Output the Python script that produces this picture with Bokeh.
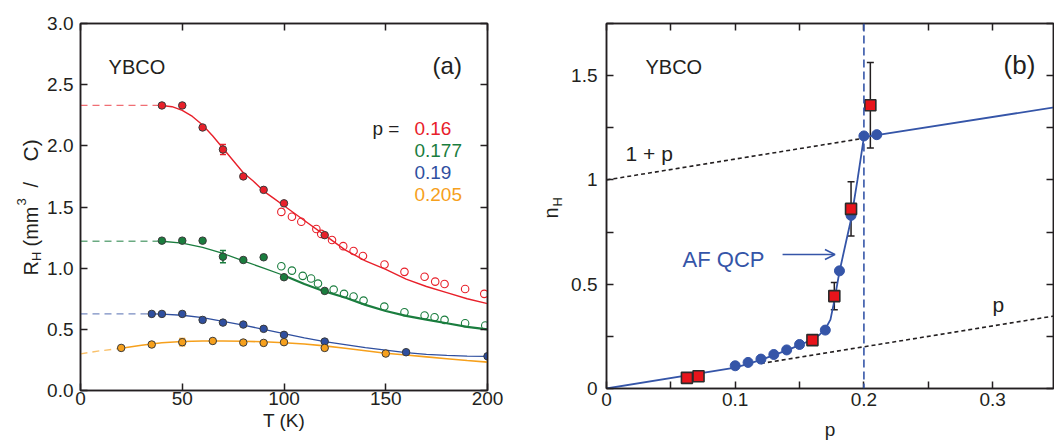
import math
from bokeh.plotting import figure
from bokeh.layouts import row
from bokeh.models import (FixedTicker, LinearAxis, CustomJSTickFormatter, Label, Span,
                          Whisker, TeeHead, Arrow, OpenHead, ColumnDataSource, Range1d)
from bokeh.embed import file_html
from bokeh.resources import INLINE

FONT = "Liberation Sans"
INK = "#231f20"
RED = "#e8202a"
GREEN = "#1a7d3e"
BLUE = "#2f4f9f"
ORANGE = "#f6a01c"
BLUE_B = "#3555a8"
SQ_RED = "#e8141b"
H = 448

# ---------------- Panel (a) data ----------------
T_red_fill = [40, 50, 60, 70, 80, 90, 100, 120]
R_red_fill = [2.33, 2.33, 2.15, 1.97, 1.75, 1.64, 1.53, 1.27]
T_red_open = [98.7, 103.9, 108.5, 115.9, 118.3, 123.6, 129.1, 134.2, 138.8, 149.4, 159.2, 169.1, 174.3, 178.9, 189.0, 198.4]
R_red_open = [1.46, 1.42, 1.38, 1.32, 1.28, 1.23, 1.18, 1.14, 1.10, 1.03, 0.97, 0.93, 0.89, 0.87, 0.83, 0.79]
T_red_fit = [40, 45, 50, 55, 60, 65, 70, 75, 80, 85, 90, 95, 100, 110, 120, 130, 140, 150, 160, 170, 180, 190, 200]
R_red_fit = [2.33, 2.32, 2.29, 2.24, 2.17, 2.08, 1.98, 1.88, 1.78, 1.71, 1.63, 1.57, 1.51, 1.39, 1.27, 1.15, 1.06, 0.99, 0.91, 0.85, 0.80, 0.75, 0.71]
T_red_ext = [0, 40]
R_red_ext = [2.33, 2.33]

T_grn_fill = [40, 50, 60, 70, 80, 90, 100, 120]
R_grn_fill = [1.225, 1.225, 1.225, 1.094, 1.067, 1.089, 0.926, 0.814]
T_grn_open = [98.7, 103.9, 109.2, 113.3, 116.7, 124.4, 129.5, 134.2, 139.1, 149.3, 159.2, 169.1, 174.0, 178.9, 189.0, 198.9]
R_grn_open = [1.016, 0.98, 0.937, 0.915, 0.874, 0.825, 0.79, 0.768, 0.735, 0.686, 0.64, 0.613, 0.599, 0.577, 0.55, 0.531]
T_grn_fit1 = [40, 50, 60, 70, 80, 90, 100]
R_grn_fit1 = [1.22, 1.205, 1.17, 1.12, 1.06, 1.00, 0.94]
T_grn_fit2 = [100, 110, 120, 130, 140, 150, 160, 170, 180, 190, 200]
R_grn_fit2 = [0.94, 0.87, 0.81, 0.76, 0.70, 0.65, 0.61, 0.58, 0.55, 0.52, 0.50]
T_grn_ext = [0, 40]
R_grn_ext = [1.22, 1.22]

T_blu_fill = [35, 40, 50, 60, 70, 80, 90, 100, 120, 160, 200]
R_blu_fill = [0.626, 0.626, 0.626, 0.577, 0.555, 0.539, 0.504, 0.455, 0.40, 0.313, 0.28]
T_blu_fit = [35, 40, 50, 60, 70, 80, 90, 100, 110, 120, 130, 140, 150, 160, 170, 180, 190, 200]
R_blu_fit = [0.626, 0.625, 0.615, 0.595, 0.565, 0.535, 0.50, 0.465, 0.43, 0.40, 0.375, 0.35, 0.33, 0.31, 0.295, 0.287, 0.281, 0.279]
T_blu_ext = [0, 35]
R_blu_ext = [0.626, 0.626]

T_org_fill = [20, 35, 50, 65, 80, 90, 100, 120, 150]
R_org_fill = [0.348, 0.376, 0.395, 0.405, 0.392, 0.389, 0.395, 0.348, 0.302]
T_org_fit = [20, 30, 40, 50, 60, 70, 80, 90, 100, 110, 120, 130, 140, 150, 160, 170, 180, 190, 200]
R_org_fit = [0.345, 0.37, 0.39, 0.40, 0.405, 0.405, 0.403, 0.398, 0.39, 0.38, 0.365, 0.345, 0.325, 0.305, 0.29, 0.275, 0.26, 0.245, 0.232]
T_org_ext = [0, 10, 20]
R_org_ext = [0.30, 0.325, 0.345]

# error bars in (a)
err_a_T = [70, 70, 60, 50]
err_a_R = [1.97, 1.094, 0.577, 0.395]
err_a_e = [0.04, 0.05, 0.02, 0.03]
err_a_c = [RED, GREEN, BLUE, ORANGE]

legend_p = ["0.16", "0.177", "0.19", "0.205"]
legend_c = [RED, GREEN, BLUE, ORANGE]

a_xticks = [0, 50, 100, 150, 200]
a_yticks = [0.0, 0.5, 1.0, 1.5, 2.0, 2.5, 3.0]

# ---------------- Panel (b) data ----------------
p_circ = [0.10, 0.11, 0.12, 0.13, 0.14, 0.15, 0.16, 0.17, 0.181, 0.19, 0.20, 0.21]
n_circ = [0.109, 0.125, 0.141, 0.163, 0.185, 0.211, 0.235, 0.28, 0.564, 0.83, 1.211, 1.217]
p_sq = [0.0625, 0.0715, 0.16, 0.177, 0.19, 0.205]
n_sq = [0.051, 0.059, 0.232, 0.443, 0.861, 1.358]
e_sq = [0.0, 0.0, 0.02, 0.065, 0.13, 0.205]
p_fit = [0.0, 0.10, 0.11, 0.12, 0.13, 0.14, 0.15, 0.16, 0.165, 0.17, 0.174, 0.177, 0.181, 0.186, 0.19, 0.195, 0.20, 0.35]
n_fit = [0.0, 0.10, 0.118, 0.137, 0.16, 0.183, 0.208, 0.235, 0.255, 0.285, 0.33, 0.42, 0.56, 0.70, 0.81, 1.0, 1.205, 1.35]
p_ref1 = [0.0, 0.2]
n_ref1 = [1.0, 1.2]
p_ref2 = [0.12, 0.35]
n_ref2 = [0.12, 0.35]
p_qcp = 0.2

b_xticks = [0.0, 0.1, 0.2, 0.3]
b_xminor = [0.05, 0.15, 0.25, 0.35]
b_yticks = [0.0, 0.5, 1.0, 1.5]
b_yminor = [0.25, 0.75, 1.25, 1.75]

EMPTY = CustomJSTickFormatter(code="return ''")


def style_axis(ax, ticker, formatter, standoff):
    ax.ticker = ticker
    ax.formatter = formatter
    ax.major_tick_in = 7
    ax.major_tick_out = 0
    ax.minor_tick_in = 7
    ax.minor_tick_out = 0
    ax.axis_line_color = INK
    ax.axis_line_width = 1.5
    ax.major_tick_line_color = INK
    ax.major_tick_line_width = 1.5
    ax.minor_tick_line_color = INK
    ax.minor_tick_line_width = 1.5
    ax.major_label_text_font = FONT
    ax.major_label_text_font_size = "19px"
    ax.major_label_text_color = INK
    ax.major_label_standoff = standoff
    ax.axis_label_text_font = FONT
    ax.axis_label_text_font_size = "19px"
    ax.axis_label_text_font_style = "normal"
    ax.axis_label_text_color = INK


def frame_axes(p, xt, yt):
    top = LinearAxis()
    style_axis(top, xt, EMPTY, 0)
    right = LinearAxis()
    style_axis(right, yt, EMPTY, 0)
    p.add_layout(top, "above")
    p.add_layout(right, "right")


def lab(p, x, y, text, size, color=INK, align="left", baseline="alphabetic", angle=0.0):
    p.add_layout(Label(x=x, y=y, text=text, text_font=FONT, text_font_size=f"{size}px",
                       text_color=color, text_align=align, text_baseline=baseline,
                       angle=angle, angle_units="rad"))


def label_strip(w):
    f = figure(width=w, height=H, x_range=Range1d(0, w), y_range=Range1d(H, 0),
               output_backend="svg", toolbar_location=None, x_axis_type=None,
               y_axis_type=None, min_border=0, title=None, frame_align=False)
    f.outline_line_color = None
    f.xgrid.visible = False
    f.ygrid.visible = False
    f.border_fill_color = "white"
    f.background_fill_color = "white"
    return f


ang = math.pi / 2

# ================= y title strip for (a): R_H (mm^3 / C) =================
sa = label_strip(44)
lab(sa, 30, 275, "R", 20, angle=ang)
lab(sa, 36, 260.5, "H", 13, angle=ang)
lab(sa, 30, 246, "(mm", 20, angle=ang)
lab(sa, 21, 205, "3", 13, angle=ang)
lab(sa, 30, 187, "/", 20, angle=ang)
lab(sa, 30, 161, "C)", 21, angle=ang)

# ================= Panel (a) =================
pa = figure(width=486, height=H, x_range=Range1d(0, 200), y_range=Range1d(0, 3),
            output_backend="svg", toolbar_location=None, frame_align=False,
            min_border_left=36, min_border_right=43, min_border_top=23, min_border_bottom=58)
pa.xgrid.visible = False
pa.ygrid.visible = False
pa.outline_line_color = INK
pa.outline_line_width = 1.5
pa.background_fill_color = "white"
pa.border_fill_color = "white"

xt_a = FixedTicker(ticks=a_xticks)
yt_a = FixedTicker(ticks=a_yticks)
style_axis(pa.xaxis[0], xt_a, CustomJSTickFormatter(code="return tick.toFixed(0)"), 1)
style_axis(pa.yaxis[0], yt_a, CustomJSTickFormatter(code="return tick.toFixed(1)"), 7)
pa.xaxis[0].axis_label = "T (K)"
pa.xaxis[0].axis_label_standoff = 2
frame_axes(pa, xt_a, yt_a)

for tx, rx, c in [(T_red_ext, R_red_ext, RED), (T_grn_ext, R_grn_ext, GREEN),
                  (T_blu_ext, R_blu_ext, BLUE), (T_org_ext, R_org_ext, ORANGE)]:
    pa.line(tx, rx, line_color=c, line_width=1.3, line_dash="7 5", line_alpha=0.65)

pa.line(T_red_fit, R_red_fit, line_color=RED, line_width=1.4)
pa.line(T_grn_fit1, R_grn_fit1, line_color=GREEN, line_width=1.3)
pa.line(T_grn_fit2, R_grn_fit2, line_color=GREEN, line_width=2.2)
pa.line(T_blu_fit, R_blu_fit, line_color=BLUE, line_width=1.3)
pa.line(T_org_fit, R_org_fit, line_color=ORANGE, line_width=1.6)

src_err = ColumnDataSource(dict(x=err_a_T, lo=[r - e for r, e in zip(err_a_R, err_a_e)],
                                hi=[r + e for r, e in zip(err_a_R, err_a_e)], c=err_a_c))
pa.add_layout(Whisker(source=src_err, base="x", lower="lo", upper="hi",
                      line_color="c", line_width=1.5,
                      upper_head=TeeHead(size=6, line_color="c", line_width=1.5),
                      lower_head=TeeHead(size=6, line_color="c", line_width=1.5)))

pa.scatter(T_red_open, R_red_open, marker="circle", size=7.5, fill_color=None,
           line_color=RED, line_width=1.1)
pa.scatter(T_grn_open, R_grn_open, marker="circle", size=7.5, fill_color=None,
           line_color=GREEN, line_width=1.1)

for tx, rx, c in [(T_red_fill, R_red_fill, RED), (T_grn_fill, R_grn_fill, GREEN),
                  (T_blu_fill, R_blu_fill, BLUE), (T_org_fill, R_org_fill, ORANGE)]:
    pa.scatter(tx, rx, marker="circle", size=7.5, fill_color=c, line_color="#3a3a3a", line_width=1)

lab(pa, 13.8, 2.643, "YBCO", 20)
lab(pa, 173.0, 2.657, "(a)", 24)
lab(pa, 143.5, 2.142, "p =", 19)
for i, (t, c) in enumerate(zip(legend_p, legend_c)):
    lab(pa, 164.1, 2.142 - i * 0.18, t, 19, color=c)

# ================= y title strip for (b): n_H =================
sb = label_strip(36)
lab(sb, 20, 218, "n", 20, angle=ang)
lab(sb, 27, 206, "H", 13, angle=ang)

# ================= Panel (b) =================
pb = figure(width=488, height=H, x_range=Range1d(0, 0.3473), y_range=Range1d(0, 1.75),
            output_backend="svg", toolbar_location=None, frame_align=False,
            min_border_left=40, min_border_right=1, min_border_top=23, min_border_bottom=60)
pb.xgrid.visible = False
pb.ygrid.visible = False
pb.outline_line_color = INK
pb.outline_line_width = 1.5
pb.background_fill_color = "white"
pb.border_fill_color = "white"

fmt_b = CustomJSTickFormatter(code="return String(Math.round(tick*100)/100)")
xt_b = FixedTicker(ticks=b_xticks, minor_ticks=b_xminor)
yt_b = FixedTicker(ticks=b_yticks, minor_ticks=b_yminor)
style_axis(pb.xaxis[0], xt_b, fmt_b, 4)
style_axis(pb.yaxis[0], yt_b, fmt_b, 9)
pb.xaxis[0].axis_label = "p"
pb.xaxis[0].axis_label_standoff = 10
frame_axes(pb, xt_b, yt_b)

pb.line(p_ref1, n_ref1, line_color=INK, line_width=1.6, line_dash="4 3")
pb.line(p_ref2, n_ref2, line_color=INK, line_width=1.6, line_dash="4 3")
pb.add_layout(Span(location=p_qcp, dimension="height", line_color=BLUE_B, line_width=1.6,
                   line_dash="8 4"))
pb.line(p_fit, n_fit, line_color=BLUE_B, line_width=1.8)
pb.scatter(p_circ, n_circ, marker="circle", size=10, fill_color=BLUE_B, line_color=BLUE_B)

src_sq = ColumnDataSource(dict(x=p_sq, lo=[n - e for n, e in zip(n_sq, e_sq)],
                               hi=[n + e for n, e in zip(n_sq, e_sq)]))
pb.add_layout(Whisker(source=src_sq, base="x", lower="lo", upper="hi",
                      line_color=INK, line_width=1.5,
                      upper_head=TeeHead(size=7, line_color=INK, line_width=1.5),
                      lower_head=TeeHead(size=7, line_color=INK, line_width=1.5)))
pb.scatter(p_sq, n_sq, marker="square", size=11, fill_color=SQ_RED, line_color="#2b2b2b",
           line_width=1.6)

pb.add_layout(Arrow(end=OpenHead(size=10, line_color=BLUE_B, line_width=1.6),
                    x_start=0.1368, y_start=0.6425, x_end=0.1775, y_end=0.6425,
                    line_color=BLUE_B, line_width=1.6))

lab(pb, 0.0303, 1.540, "YBCO", 20)
lab(pb, 0.3085, 1.551, "(b)", 26)
lab(pb, 0.0148, 1.125, "1 + p", 21)
lab(pb, 0.2999, 0.403, "p", 21)
lab(pb, 0.0591, 0.617, "AF QCP", 22, color=BLUE_B)

layout = row(sa, pa, sb, pb)
open("out.html", "w").write(file_html(layout, INLINE))
